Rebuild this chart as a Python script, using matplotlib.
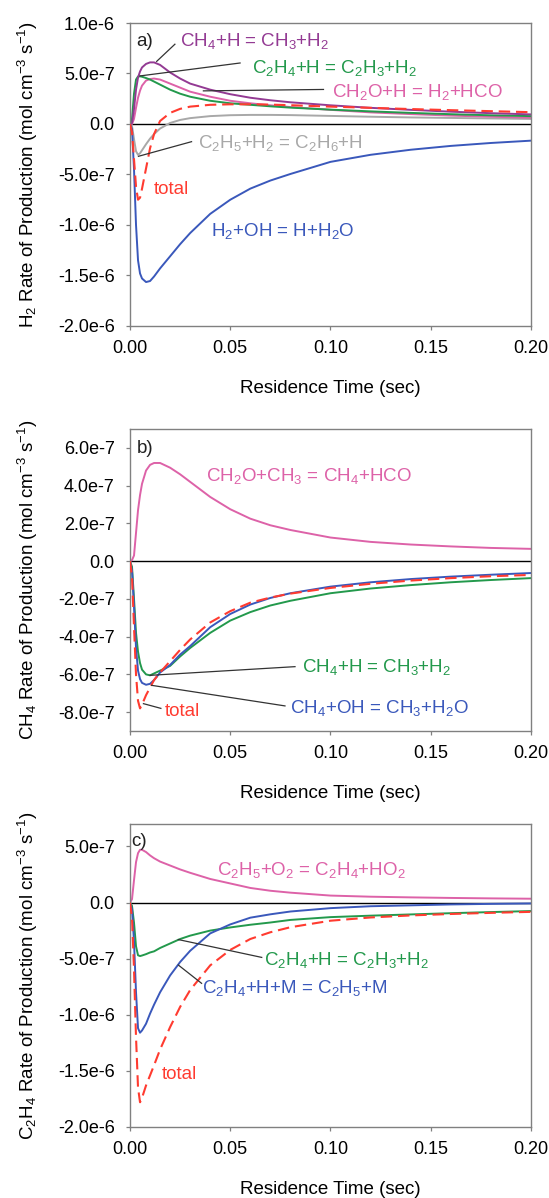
import matplotlib.pyplot as plt
from matplotlib.ticker import FixedLocator, FixedFormatter

plt.rcParams["font.family"] = ["Liberation Sans", "DejaVu Sans"]
plt.rcParams["mathtext.default"] = "regular"

SCALE = 1e-7  # all rates below are given in units of 1e-7 mol cm-3 s-1

# residence time samples (sec), shared by every curve
t = [0.0, 0.001, 0.002, 0.003, 0.004, 0.005, 0.006, 0.008, 0.010, 0.012, 0.015,
     0.020, 0.025, 0.030, 0.040, 0.050, 0.060, 0.070, 0.080, 0.100, 0.120,
     0.140, 0.160, 0.180, 0.200]

# ---- panel a: H2 ----
a_ch4_h = [0, 0.1, 1.5, 3.4, 4.6, 5.2, 5.6, 5.95, 6.1, 6.1, 5.85, 5.1, 4.5, 4.0,
           3.4, 2.95, 2.6, 2.35, 2.15, 1.85, 1.6, 1.4, 1.22, 1.07, 0.95]
a_c2h4_h = [0, 0.5, 3.0, 4.4, 4.7, 4.72, 4.68, 4.55, 4.4, 4.2, 3.9, 3.4, 3.0, 2.7,
            2.3, 2.05, 1.9, 1.75, 1.62, 1.42, 1.25, 1.1, 0.97, 0.86, 0.78]
a_ch2o_h = [0, 0, 0.5, 1.6, 2.6, 3.3, 3.8, 4.3, 4.45, 4.5, 4.4, 4.0, 3.6, 3.2,
            2.7, 2.3, 2.05, 1.85, 1.68, 1.4, 1.15, 0.98, 0.83, 0.72, 0.62]
a_c2h5_h2 = [0, -0.2, -1.5, -2.7, -3.05, -2.9, -2.6, -2.0, -1.45, -1.0, -0.45, 0.1,
             0.4, 0.58, 0.78, 0.87, 0.9, 0.9, 0.88, 0.8, 0.72, 0.65, 0.6, 0.55, 0.5]
a_h2_oh = [0, -0.5, -4.5, -10.0, -13.5, -14.8, -15.3, -15.65, -15.55, -15.1, -14.3,
           -13.1, -11.9, -10.8, -8.9, -7.5, -6.4, -5.6, -4.95, -3.75, -3.05, -2.55,
           -2.17, -1.88, -1.65]
a_total = [0, -0.8, -3.5, -6.2, -7.5, -7.3, -6.4, -4.4, -2.4, -1.0, 0.3, 1.1, 1.5,
           1.72, 1.9, 1.95, 1.95, 1.92, 1.86, 1.72, 1.6, 1.48, 1.37, 1.27, 1.17]

# ---- panel b: CH4 ----
b_ch2o_ch3 = [0, 0.05, 0.3, 1.5, 2.7, 3.5, 4.1, 4.8, 5.1, 5.2, 5.2, 4.95, 4.6, 4.2,
              3.4, 2.75, 2.25, 1.9, 1.65, 1.25, 1.02, 0.88, 0.78, 0.7, 0.65]
b_ch4_h = [0, -0.3, -2.0, -3.8, -4.8, -5.4, -5.75, -6.0, -6.05, -5.95, -5.8, -5.55,
           -5.05, -4.6, -3.8, -3.15, -2.7, -2.35, -2.1, -1.7, -1.45, -1.27, -1.12,
           -1.0, -0.9]
b_ch4_oh = [0, -0.5, -2.4, -4.6, -5.8, -6.25, -6.45, -6.55, -6.5, -6.3, -5.9, -5.5,
            -4.95, -4.5, -3.5, -2.8, -2.3, -1.95, -1.7, -1.35, -1.12, -0.95, -0.82,
            -0.72, -0.63]
b_total = [0, -0.8, -3.5, -6.0, -7.4, -7.8, -7.6, -7.1, -6.7, -6.3, -5.9, -5.3,
           -4.7, -4.15, -3.25, -2.65, -2.2, -1.93, -1.72, -1.42, -1.2, -1.03, -0.9,
           -0.8, -0.73]

# ---- panel c: C2H4 ----
c_c2h5_o2 = [0, 0.3, 2.0, 3.6, 4.4, 4.7, 4.7, 4.5, 4.2, 3.95, 3.65, 3.3, 2.95, 2.65,
             2.1, 1.7, 1.3, 1.05, 0.88, 0.62, 0.52, 0.46, 0.41, 0.37, 0.34]
c_c2h4_h = [0, -0.3, -1.8, -3.9, -4.7, -4.77, -4.72, -4.6, -4.45, -4.35, -4.05, -3.65,
            -3.25, -2.95, -2.5, -2.22, -1.98, -1.78, -1.55, -1.3, -1.17, -1.06,
            -0.95, -0.85, -0.76]
c_c2h4_h_m = [0, -0.6, -3.5, -8.0, -11.2, -11.6, -11.4, -10.8, -9.9, -9.1, -8.0,
              -6.5, -5.3, -4.3, -2.75, -1.95, -1.35, -1.05, -0.8, -0.5, -0.33,
              -0.25, -0.17, -0.12, -0.08]
c_total = [0, -1.3, -6.0, -12.0, -16.5, -17.8, -17.4, -16.3, -15.4, -14.5, -13.1,
           -11.1, -9.3, -7.8, -5.6, -4.22, -3.25, -2.65, -2.2, -1.62, -1.33, -1.15,
           -1.02, -0.92, -0.83]

x_ticks = [0.0, 0.05, 0.10, 0.15, 0.20]
x_tick_labels = ["0.00", "0.05", "0.10", "0.15", "0.20"]

a_ticks = [10, 5, 0, -5, -10, -15, -20]
a_tick_labels = ["1.0e-6", "5.0e-7", "0.0", "-5.0e-7", "-1.0e-6", "-1.5e-6", "-2.0e-6"]
b_ticks = [6, 4, 2, 0, -2, -4, -6, -8]
b_tick_labels = ["6.0e-7", "4.0e-7", "2.0e-7", "0.0", "-2.0e-7", "-4.0e-7",
                 "-6.0e-7", "-8.0e-7"]
c_ticks = [5, 0, -5, -10, -15, -20]
c_tick_labels = ["5.0e-7", "0.0", "-5.0e-7", "-1.0e-6", "-1.5e-6", "-2.0e-6"]

PURPLE = "#933a93"
GREEN = "#23994c"
PINK = "#dd62a8"
RED = "#ff3b30"
GRAY = "#a8a8a8"
BLUE = "#3a58bb"
FRAME = "#808080"
FS = 13.5


def style_axes(ax, ylim, ticks, tick_labels, ylabel):
    ax.set_xlim(0, 0.2)
    ax.set_ylim(ylim[0] * SCALE, ylim[1] * SCALE)
    ax.xaxis.set_major_locator(FixedLocator(x_ticks))
    ax.xaxis.set_major_formatter(FixedFormatter(x_tick_labels))
    ax.yaxis.set_major_locator(FixedLocator([v * SCALE for v in ticks]))
    ax.yaxis.set_major_formatter(FixedFormatter(tick_labels))
    for s in ax.spines.values():
        s.set_color(FRAME)
        s.set_linewidth(1.0)
    ax.tick_params(direction="out", length=3, width=0.9, color=FRAME,
                   labelsize=13, top=False, right=False)
    ax.tick_params(axis="x", pad=7)
    ax.tick_params(axis="y", pad=8)
    ax.axhline(0, color="black", lw=1.0, zorder=1)
    ax.set_xlabel("Residence Time (sec)", fontsize=FS)
    ax.xaxis.set_label_coords(0.5, -0.178)
    ax.set_ylabel(ylabel, fontsize=FS)
    ax.yaxis.set_label_coords(-0.225, 0.5)


def curve(ax, values, color, dashed=False):
    y = [v * SCALE for v in values]
    if dashed:
        ax.plot(t, y, color=color, lw=1.5, dashes=(5.5, 2.8), zorder=3)
    else:
        ax.plot(t, y, color=color, lw=1.4, zorder=2)


def leader(ax, p0, p1):
    ax.plot([p0[0], p1[0]], [p0[1] * SCALE, p1[1] * SCALE], color="#333333",
            lw=0.9, zorder=4)


def label(ax, x, y, s, color):
    ax.text(x, y * SCALE, s, color=color, fontsize=FS, ha="left", va="center")


fig = plt.figure(figsize=(5.49, 11.98), dpi=100)
ax_a = fig.add_axes([0.2368, 0.7279, 0.7304, 0.2529])
ax_b = fig.add_axes([0.2368, 0.3898, 0.7304, 0.2521])
ax_c = fig.add_axes([0.2368, 0.0593, 0.7304, 0.2529])

# panel a
style_axes(ax_a, (-20, 10), a_ticks, a_tick_labels,
           "H$_2$ Rate of Production (mol cm$^{-3}$ s$^{-1}$)")
curve(ax_a, a_c2h5_h2, GRAY)
curve(ax_a, a_ch2o_h, PINK)
curve(ax_a, a_c2h4_h, GREEN)
curve(ax_a, a_ch4_h, PURPLE)
curve(ax_a, a_h2_oh, BLUE)
curve(ax_a, a_total, RED, dashed=True)
leader(ax_a, (0.0133, 6.2), (0.0224, 7.9))
leader(ax_a, (0.005, 4.76), (0.0549, 6.04))
leader(ax_a, (0.0366, 3.28), (0.0965, 3.42))
leader(ax_a, (0.0042, -3.2), (0.0307, -1.75))
label(ax_a, 0.0033, 8.2, "a)", "#222222")
label(ax_a, 0.0249, 8.2, "CH$_4$+H = CH$_3$+H$_2$", PURPLE)
label(ax_a, 0.0607, 5.57, "C$_2$H$_4$+H = C$_2$H$_3$+H$_2$", GREEN)
label(ax_a, 0.1006, 3.2, "CH$_2$O+H = H$_2$+HCO", PINK)
label(ax_a, 0.034, -1.85, "C$_2$H$_5$+H$_2$ = C$_2$H$_6$+H", GRAY)
label(ax_a, 0.0117, -6.5, "total", RED)
label(ax_a, 0.0404, -10.6, "H$_2$+OH = H+H$_2$O", BLUE)

# panel b
style_axes(ax_b, (-9, 7), b_ticks, b_tick_labels,
           "CH$_4$ Rate of Production (mol cm$^{-3}$ s$^{-1}$)")
curve(ax_b, b_ch2o_ch3, PINK)
curve(ax_b, b_ch4_h, GREEN)
curve(ax_b, b_ch4_oh, BLUE)
curve(ax_b, b_total, RED, dashed=True)
leader(ax_b, (0.010, -6.05), (0.0823, -5.59))
leader(ax_b, (0.0108, -6.58), (0.0773, -7.67))
leader(ax_b, (0.0067, -7.55), (0.0154, -7.8))
label(ax_b, 0.0033, 5.96, "b)", "#222222")
label(ax_b, 0.038, 4.5, "CH$_2$O+CH$_3$ = CH$_4$+HCO", PINK)
label(ax_b, 0.0856, -5.59, "CH$_4$+H = CH$_3$+H$_2$", GREEN)
label(ax_b, 0.0798, -7.76, "CH$_4$+OH = CH$_3$+H$_2$O", BLUE)
label(ax_b, 0.0175, -7.94, "total", RED)

# panel c
style_axes(ax_c, (-20, 7), c_ticks, c_tick_labels,
           "C$_2$H$_4$ Rate of Production (mol cm$^{-3}$ s$^{-1}$)")
curve(ax_c, c_c2h5_o2, PINK)
curve(ax_c, c_c2h4_h, GREEN)
curve(ax_c, c_c2h4_h_m, BLUE)
curve(ax_c, c_total, RED, dashed=True)
leader(ax_c, (0.0241, -3.3), (0.0657, -4.89))
leader(ax_c, (0.0241, -5.57), (0.0357, -7.2))
label(ax_c, 0.0008, 5.47, "c)", "#222222")
label(ax_c, 0.0432, 2.93, "C$_2$H$_5$+O$_2$ = C$_2$H$_4$+HO$_2$", PINK)
label(ax_c, 0.0668, -5.12, "C$_2$H$_4$+H = C$_2$H$_3$+H$_2$", GREEN)
label(ax_c, 0.0357, -7.64, "C$_2$H$_4$+H+M = C$_2$H$_5$+M", BLUE)
label(ax_c, 0.0158, -15.3, "total", RED)

fig.savefig("out.png", dpi=100)
